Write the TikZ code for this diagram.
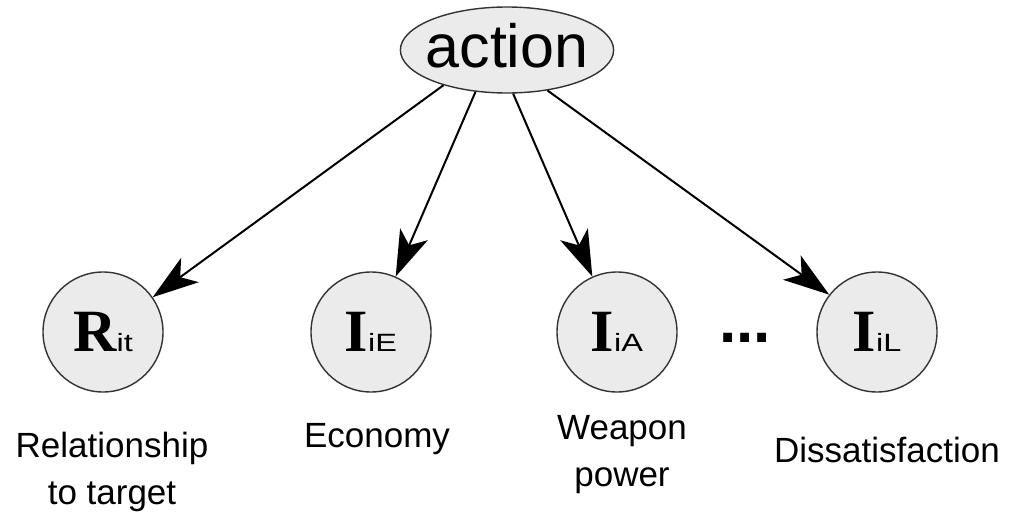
\documentclass[tikz,border=0pt]{standalone}
\usepackage{fontspec}
\setmainfont{Liberation Serif}
\setsansfont{Liberation Sans}
\newfontfamily\subfont[FakeStretch=1.3]{Liberation Sans}
\usetikzlibrary{shapes.geometric,arrows.meta}
\definecolor{nodefill}{HTML}{EBEBEB}
\definecolor{nodeline}{HTML}{333333}
\newcommand{\BigVar}[1]{{\rmfamily\bfseries\fontsize{60}{60}\selectfont #1}}
\newcommand{\SubVar}[1]{{\subfont\fontsize{25}{25}\selectfont #1}}
\begin{document}
\begin{tikzpicture}[x=1pt,y=-1pt,
  varnode/.style={circle,draw=nodeline,line width=1.4pt,fill=nodefill,minimum size=120pt,inner sep=0pt},
  actnode/.style={ellipse,draw=nodeline,line width=1.4pt,fill=nodefill,minimum width=210pt,minimum height=86pt,
    inner xsep=-6pt,inner ysep=0pt,
    font=\sffamily\fontsize{61}{61}\selectfont,text depth=9pt},
  lbl/.style={anchor=base,align=center,font=\sffamily\fontsize{35}{47}\selectfont},
  arr/.style={line width=2pt,-{Stealth[length=46pt,width=30pt,inset=12pt]}}
]
\useasboundingbox (0,0) rectangle (1016,511);
\node[actnode] (action) at (507,50) {action};
\node[varnode] (Rit) at (103,332) {\BigVar{R}\SubVar{it}};
\node[varnode] (IiE) at (371,332) {\BigVar{I}\SubVar{iE}};
\node[varnode] (IiA) at (617,332) {\BigVar{I}\SubVar{iA}};
\node[varnode] (IiL) at (877,332) {\BigVar{I}\SubVar{iL}};
\node[anchor=base,font=\sffamily\bfseries\fontsize{62}{62}\selectfont,inner sep=0pt] (dots) at (745,342) {...};
\draw[arr] (action.209.6) -- (Rit.35.9);
\draw[arr] (action.233.3) -- (IiE.66.3);
\draw[arr] (action.278) -- (IiA.114.8);
\draw[arr] (action.315.7) -- (IiL.142);
\node[lbl] (lR) at (112,504) {Relationship\\to target};
\node[lbl] (lE) at (377,447) {Economy};
\node[lbl] (lA) at (622,486) {Weapon\\power};
\node[lbl] (lL) at (887,462) {Dissatisfaction};
\end{tikzpicture}
\end{document}
